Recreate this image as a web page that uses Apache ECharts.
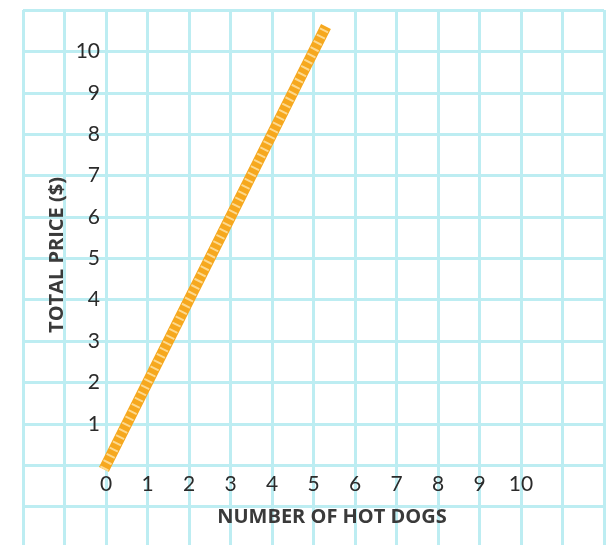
<!DOCTYPE html>
<html>
<head>
<meta charset="utf-8">
<style>html,body{margin:0;padding:0;background:#fff;}#c{width:609px;height:545px;}</style>
<script src="https://cdn.jsdelivr.net/npm/echarts@6/dist/echarts.min.js"></script>
</head>
<body>
<div id="c"></div>
<script>
var hotDogs = [-0.05, 1, 2, 3, 4, 5, 5.3];
var totalPrice = [-0.1, 2, 4, 6, 8, 10, 10.6];
var xTickLabels = ['0','1','2','3','4','5','6','7','8','9','10'];
var yTickLabels = ['1','2','3','4','5','6','7','8','9','10'];
var xTitle = 'NUMBER OF HOT DOGS';
var yTitle = 'TOTAL PRICE ($)';

var pts = hotDogs.map(function(x, i){ return [x, totalPrice[i]]; });
var gridColor = '#BDEDF2';
var chart = echarts.init(document.getElementById('c'), null, {renderer:'canvas'});
chart.setOption({
  animation: false,
  grid: {left: 23, top: 10, width: 581, height: 538, containLabel: false, outerBoundsMode: 'none'},
  xAxis: {
    type: 'value', min: -2, max: 12, interval: 1, position: 'bottom', offset: -83,
    axisLine: {show: false, onZero: false},
    axisTick: {show: false},
    splitLine: {show: true, lineStyle: {color: gridColor, width: 3}},
    axisLabel: {
      margin: 9, fontSize: 21, color: '#2b2b2b', fontFamily: 'Lato',
      formatter: function(v){ var s = String(v); return xTickLabels.indexOf(s) >= 0 ? s : ''; }
    }
  },
  yAxis: {
    type: 'value', min: -2, max: 11, interval: 1, position: 'left', offset: -83,
    axisLine: {show: false, onZero: false},
    axisTick: {show: false},
    splitLine: {show: true, lineStyle: {color: gridColor, width: 3}},
    axisLabel: {
      margin: 6, fontSize: 21, color: '#2b2b2b', fontFamily: 'Lato',
      formatter: function(v){ var s = String(v); return yTickLabels.indexOf(s) >= 0 ? s : ''; }
    }
  },
  series: [
    {type: 'line', data: pts, symbol: 'none', clip: false, lineStyle: {color: '#F6A81E', width: 11, cap: 'butt'}, z: 3},
    {type: 'line', data: pts, symbol: 'none', clip: false, lineStyle: {color: '#FDD98E', width: 9, type: [2, 5], cap: 'butt'}, z: 4}
  ],
  graphic: [
    {type: 'text', z: 100, x: 332, y: 517, style: {text: xTitle, font: 'bold 20px "Open Sans"', fill: '#3a3a3a', align: 'center', verticalAlign: 'middle'}},
    {type: 'text', z: 100, x: 57, y: 255, rotation: Math.PI/2, style: {text: yTitle, font: 'bold 20px "Open Sans"', fill: '#3a3a3a', align: 'center', verticalAlign: 'middle'}}
  ]
});
</script>
</body>
</html>
